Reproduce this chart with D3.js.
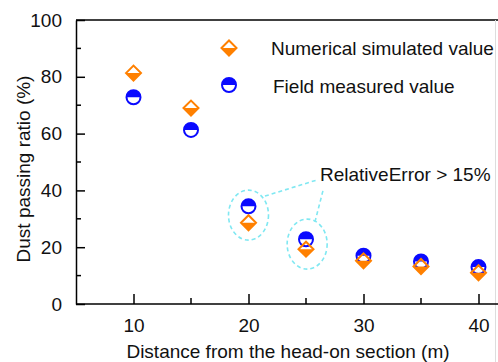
<!DOCTYPE html>
<html><head><meta charset="utf-8">
<script src="https://cdn.jsdelivr.net/npm/d3@7"></script>
<style>body{margin:0;background:#fff}svg{display:block}text{font-family:"Liberation Sans",Arial,sans-serif;fill:#111}</style>
</head><body>
<script>
const distances = [10, 15, 20, 25, 30, 35, 40];
const simulated = [81.3, 69.0, 28.6, 19.3, 15.2, 13.2, 11.0];
const measured = [72.8, 61.3, 34.4, 22.8, 17.0, 15.0, 13.0];
const xTicks = [10, 20, 30, 40];
const xMinor = [15, 25, 35];
const yTicks = [0, 20, 40, 60, 80, 100];
const yMinor = [10, 30, 50, 70, 90];
const legendLabels = ["Numerical simulated value", "Field measured value"];
const annotationText = "RelativeError > 15%";
const highlighted = [{x: 20, y: 31.3}, {x: 25.1, y: 21.1}];
const leaders = [[[21.43, 38.0], [25.9, 43.6]], [[25.78, 28.9], [26.5, 40.3]]];
const xTitle = "Distance from the head-on section (m)";
const yTitle = "Dust passing ratio (%)";

(function () {
const W = 498, H = 362;
const mLeft = 76, mTop = 20, mBottom = 304;
const orange = "#ff8000", blue = "#0a0aff", cyan = "#80e8f2";
const fs = 19;

const x = d3.scaleLinear().domain([5, 42]).range([mLeft, mLeft + 37 * 11.5]);
const y = d3.scaleLinear().domain([0, 100]).range([mBottom, mTop]);

const svg = d3.select("body").append("svg").attr("width", W).attr("height", H);

// frame
svg.append("line").attr("x1", mLeft).attr("x2", W).attr("y1", mTop).attr("y2", mTop).attr("stroke", "#000").attr("stroke-width", 1.5);
svg.append("line").attr("x1", 495.5).attr("x2", 495.5).attr("y1", mTop).attr("y2", H).attr("stroke", "#ddd").attr("stroke-width", 1);

// axes
const xAxis = svg.append("g").attr("transform", `translate(0,${mBottom})`)
  .call(d3.axisBottom(x).tickValues(xTicks).tickSize(-10).tickPadding(15).tickSizeOuter(0));
xAxis.select(".domain").attr("stroke-width", 1.5).attr("d", `M${mLeft},0H${W}`);
xAxis.selectAll(".tick line").attr("stroke-width", 1.5);
xAxis.selectAll(".tick text").attr("font-size", fs).attr("font-family", "Liberation Sans, Arial, sans-serif").attr("fill", "#111");
xAxis.selectAll(".minor").data(xMinor).enter().append("line")
  .attr("x1", d => x(d)).attr("x2", d => x(d)).attr("y1", 0).attr("y2", -6).attr("stroke", "#000").attr("stroke-width", 1.5);

const yAxis = svg.append("g").attr("transform", `translate(${mLeft},0)`)
  .call(d3.axisLeft(y).tickValues(yTicks).tickSize(-9).tickPadding(14).tickSizeOuter(0));
yAxis.select(".domain").attr("stroke-width", 1.5);
yAxis.selectAll(".tick line").attr("stroke-width", 1.5);
yAxis.selectAll(".tick text").attr("font-size", fs).attr("font-family", "Liberation Sans, Arial, sans-serif").attr("fill", "#111");
yAxis.selectAll(".minor").data(yMinor).enter().append("line")
  .attr("y1", d => y(d)).attr("y2", d => y(d)).attr("x1", 0).attr("x2", 5).attr("stroke", "#000").attr("stroke-width", 1.5);

// titles
svg.append("text").attr("x", 288).attr("y", 358).attr("text-anchor", "middle").attr("font-size", fs).text(xTitle);
svg.append("text").attr("transform", `translate(30,169) rotate(-90)`).attr("text-anchor", "middle").attr("font-size", fs).text(yTitle);

// annotation
const ann = svg.append("g");
highlighted.forEach(h => {
  ann.append("ellipse").attr("cx", x(h.x)).attr("cy", y(h.y)).attr("rx", 20).attr("ry", 25)
    .attr("fill", "none").attr("stroke", cyan).attr("stroke-width", 1.6).attr("stroke-dasharray", "4,3");
});
leaders.forEach(l => {
  ann.append("line").attr("x1", x(l[0][0])).attr("y1", y(l[0][1])).attr("x2", x(l[1][0])).attr("y2", y(l[1][1]))
    .attr("stroke", cyan).attr("stroke-width", 1.6).attr("stroke-dasharray", "4,3");
});
svg.append("text").attr("x", 320).attr("y", 181).attr("font-size", fs).text(annotationText);

// markers
const r = 7, d = 7.5;
function circleMarker(g, cx, cy) {
  g.append("circle").attr("cx", cx).attr("cy", cy).attr("r", r).attr("fill", "#fff");
  g.append("path").attr("d", `M${cx - r},${cy}A${r},${r} 0 0 1 ${cx + r},${cy}Z`).attr("fill", blue);
  g.append("circle").attr("cx", cx).attr("cy", cy).attr("r", r).attr("fill", "none").attr("stroke", blue).attr("stroke-width", 2);
}
function diamondMarker(g, cx, cy) {
  g.append("path").attr("d", `M${cx - d},${cy}L${cx},${cy + d}L${cx + d},${cy}Z`).attr("fill", orange);
  g.append("path").attr("d", `M${cx - d},${cy}L${cx},${cy - d}L${cx + d},${cy}L${cx},${cy + d}Z`)
    .attr("fill", "none").attr("stroke", orange).attr("stroke-width", 2).attr("stroke-linejoin", "miter");
}
const pts = svg.append("g");
distances.forEach((dist, i) => circleMarker(pts, x(dist), y(measured[i])));
distances.forEach((dist, i) => diamondMarker(pts, x(dist), y(simulated[i])));

// legend
const lg = svg.append("g");
diamondMarker(lg, 229, 48);
circleMarker(lg, 229, 85);
lg.append("text").attr("x", 271).attr("y", 55).attr("font-size", fs).text(legendLabels[0]);
lg.append("text").attr("x", 273).attr("y", 92.5).attr("font-size", fs).text(legendLabels[1]);
})();
</script>
</body></html>
